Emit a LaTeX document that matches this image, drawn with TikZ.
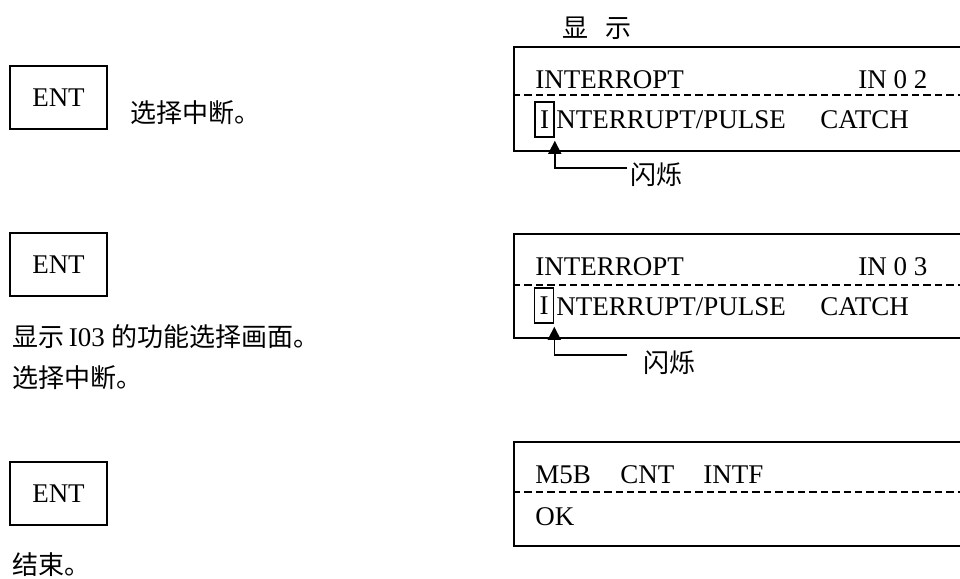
\documentclass[tikz,border=0pt]{standalone}
\usepackage{fontspec}
\setmainfont{Liberation Serif}
\newfontfamily\cjk{Noto Sans CJK SC}
\usetikzlibrary{arrows.meta,positioning}

\begin{document}
\begin{tikzpicture}[x=0.5pt,y=-0.5pt,font=\fontsize{13.5}{16}\selectfont,
 key/.style={draw,line width=0.8pt,minimum width=48.5pt,minimum height=31.5pt,inner sep=0pt},
 lcd/.style={draw,line width=0.8pt,anchor=north west,minimum width=235pt,minimum height=52pt,inner sep=0pt},
 row/.style={anchor=base west,inner sep=0pt},
 cursor/.style={draw,line width=0.8pt,minimum width=9.5pt,minimum height=17.5pt,inner sep=0pt},
 note/.style={anchor=west,inner sep=0pt,font=\cjk\fontsize{13}{20.5}\selectfont},
 sep/.style={line width=0.8pt,dash pattern=on 3.7pt off 2pt},
 flash/.style={-{Triangle[length=6.5pt,width=6.5pt]},line width=0.8pt,shorten >=1.5pt}]
 \useasboundingbox (0,0) rectangle (960,579);
 \clip (0,0) rectangle (960,579);
 % keys and notes on the left
 \node[key] (ent1) at (58.5,97.5) {ENT};
 \node[key] (ent2) at (58.5,264.5) {ENT};
 \node[key] (ent3) at (58.5,493.5) {ENT};
 \node[note] (msg1) at (130,113) {选择中断。};
 \node[note,align=left] (msg2) at (12,357.5) {显示{\rmfamily\fontsize{13.5}{16}\selectfont\,I03 }的功能选择画面。\\选择中断。};
 \node[note] (msg3) at (12,565) {结束。};
 % displays
 \node[note,anchor=center] (title) at (597,28) {显\hspace{9pt}示};
 \node[lcd] (lcd1) at (513,46) {};
 \node[lcd] (lcd2) at (513,233) {};
 \node[lcd] (lcd3) at (513,441) {};
 \draw[sep] (513,95) -- (983,95);
 \draw[sep] (513,285) -- (983,285);
 \draw[sep] (513,492) -- (983,492);
 % first screen
 \node[row] (d1a) at (535,88) {INTERROPT};
 \node[row] (d1b) at (858,88) {IN 0 2};
 \node[cursor] (cur1) at (544.5,119.5) {I};
 \node[row] (d1c) at (556,128) {NTERRUPT/PULSE};
 \node[row] (d1d) at (820,128) {CATCH};
 \coordinate (f1) at (627,168);
 \draw[flash] (f1) -| (cur1.south east);
 \node[note] (blink1) at (630,175) {闪烁};
 % second screen
 \node[row] (d2a) at (535,275) {INTERROPT};
 \node[row] (d2b) at (858,275) {IN 0 3};
 \node[cursor] (cur2) at (544,305.5) {I};
 \node[row] (d2c) at (556,315) {NTERRUPT/PULSE};
 \node[row] (d2d) at (820,315) {CATCH};
 \coordinate (f2) at (627,355);
 \draw[flash] (f2) -| (cur2.south east);
 \node[note] (blink2) at (643,363) {闪烁};
 % third screen
 \node[row] (d3a) at (535,483) {M5B};
 \node[row] (d3b) at (620,483) {CNT};
 \node[row] (d3c) at (703,483) {INTF};
 \node[row] (d3d) at (535,525) {OK};
\end{tikzpicture}
\end{document}
